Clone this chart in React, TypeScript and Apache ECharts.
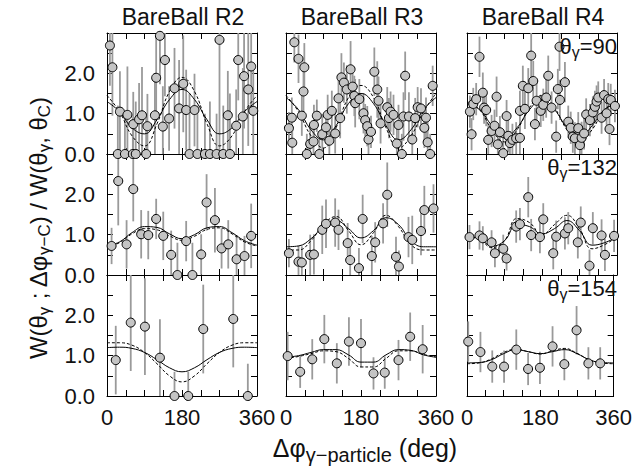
import React, { useEffect, useRef } from "react";
import * as echarts from "echarts";

const FONT = "'Liberation Sans', Arial, Helvetica, sans-serif";

// Column titles and row labels
const columnTitles = ["BareBall R2", "BareBall R3", "BareBall R4"];
const thetaLabels = ["90", "132", "154"];
const xTickLabels = [0, 180, 360];
const yTickLabels = [0, 1, 2];

// Measured points: [Δφ (deg), W ratio, error]
const r2t90 = [
  [7, 2.69, 1.0], [13, 2.15, 1.2], [26, 0, 1.2], [31, 1.05, 1.0], [43, 0, 1.0], [49, 0.97, 1.2],
  [62, 0, 0.9], [63, 0.74, 0.8], [69, 0, 1.3], [77, 0.86, 0.9], [84, 0.96, 1.2], [94, 0, 1.0],
  [97, 0.69, 0.8], [115, 0.96, 1.0], [118, 1.89, 1.0], [127, 2.93, 1.2], [134, 0.68, 1.0],
  [139, 2.33, 0.9], [149, 0.88, 0.8], [162, 1.63, 1.0], [173, 1.13, 1.2], [183, 1.74, 1.2],
  [190, 1.09, 1.0], [198, 0, 1.5], [210, 1.09, 0.9], [217, 0, 1.2], [235, 0, 1.0], [247, 0, 1.3],
  [263, 0, 1.0], [270, 2.83, 2.8], [279, 0, 1.2], [290, 0.96, 1.1], [295, 0, 1.5], [310, 0.7, 0.9],
  [315, 2.33, 1.0], [326, 0.93, 1.2], [329, 1.93, 1.3], [339, 1.6, 1.4], [346, 2.17, 1.0], [351, 1.07, 1.2],
];
const r3t90 = [
  [7, 0.64, 0.4], [14, 0.9, 0.5], [15, 0.28, 0.4], [20, 2.77, 0.5], [30, 2.36, 0.6], [38, 0.95, 0.5],
  [42, 1.55, 0.6], [44, 2.15, 0.6], [50, 0, 0.5], [58, 0.25, 0.4], [66, 0.31, 0.5], [67, 0.72, 0.5],
  [74, 0.95, 0.4], [80, 0, 0.5], [87, 0.49, 0.5], [96, 0.66, 0.4], [100, 0.97, 0.5], [104, 0.33, 0.4],
  [110, 1.07, 0.5], [118, 0.51, 0.5], [126, 1.38, 0.5], [130, 0.89, 0.5], [133, 1.9, 0.6], [139, 1.77, 0.5],
  [146, 1.6, 0.6], [155, 2.1, 0.7], [160, 1.67, 0.5], [164, 1.44, 0.5], [166, 1.26, 0.6], [176, 1.36, 0.5],
  [186, 1.01, 0.5], [190, 0.84, 0.4], [195, 0.69, 0.5], [198, 0.36, 0.4], [204, 0.55, 0.4], [212, 2.04, 0.6],
  [219, 1.6, 0.7], [222, 1.32, 0.6], [227, 0.76, 0.5], [243, 1.16, 0.5], [247, 0.89, 0.5], [251, 1.05, 0.5],
  [258, 0.97, 0.5], [266, 0.26, 0.4], [270, 0.72, 0.5], [278, 0, 0.5], [282, 0.93, 0.6], [286, 1.94, 0.6],
  [295, 0.93, 0.6], [303, 0.36, 0.5], [310, 0.89, 0.5], [316, 1.16, 0.5], [324, 1.13, 0.5], [332, 0.65, 0.5],
  [336, 0.9, 0.5], [340, 0.29, 0.5], [346, 0, 0.5], [352, 1.69, 0.5],
];
const r4t90 = [
  [7, 1.05, 0.4], [11, 0.49, 0.4], [15, 1.24, 0.4], [22, 1.36, 0.4], [30, 2.41, 0.5], [38, 1.52, 0.5],
  [41, 1.15, 0.4], [46, 1.09, 0.4], [51, 0.35, 0.4], [59, 0.57, 0.4], [66, 0.7, 0.4], [71, 1.42, 0.5],
  [74, 0.24, 0.4], [79, 0.54, 0.4], [87, 0.02, 0.4], [95, 0.94, 0.4], [99, 0.45, 0.4], [103, 0.27, 0.3],
  [109, 0.35, 0.4], [118, 0.39, 0.4], [127, 0.4, 0.4], [127, 1.07, 0.5], [134, 1.69, 0.5], [139, 1.12, 0.5],
  [147, 1.63, 0.5], [154, 2.44, 0.6], [159, 1.81, 0.5], [163, 0.74, 0.4], [167, 1.32, 0.5], [177, 1.07, 0.4],
  [183, 1.22, 0.4], [190, 1.4, 0.5], [195, 1.94, 0.5], [203, 1.15, 0.4], [214, 0.43, 0.4], [218, 1.61, 0.5],
  [222, 2.66, 0.6], [223, 1.34, 0.5], [235, 1.78, 0.5], [243, 0.8, 0.4], [249, 0.65, 0.4], [254, 0.43, 0.4],
  [259, 0.39, 0.4], [267, 0.64, 0.4], [271, 0.22, 0.3], [275, 0.4, 0.4], [281, 0.51, 0.4], [286, 0.98, 0.4],
  [295, 0.84, 0.4], [302, 1.03, 0.4], [307, 1.17, 0.4], [311, 1.3, 0.4], [315, 1.4, 0.4], [323, 0.9, 0.4],
  [329, 1.46, 0.4], [335, 1.01, 0.4], [339, 1.36, 0.4], [342, 0.62, 0.4], [345, 1.34, 0.4], [355, 1.19, 0.4],
];
const r2t132 = [
  [11, 0.72, 0.45], [27, 2.33, 1.1], [47, 0.76, 0.6], [63, 2.13, 0.8], [82, 1.01, 0.6], [99, 0.99, 0.6],
  [118, 1.39, 0.5], [135, 0.97, 0.6], [154, 0.5, 0.6], [169, 0, 0.8], [190, 0.84, 0.5], [205, 0, 0.8],
  [226, 0.51, 0.5], [239, 1.8, 0.7], [259, 1.36, 0.8], [275, 0.66, 0.5], [291, 0.76, 0.6], [311, 0.39, 0.6],
  [330, 0.47, 0.5], [346, 0.97, 0.8],
];
const r3t132 = [
  [7, 0.54, 0.35], [30, 0.33, 0.4], [38, 0.31, 0.4], [58, 0.5, 0.5], [67, 0.51, 0.5], [87, 1.12, 0.6],
  [96, 1.27, 0.6], [118, 1.3, 0.6], [126, 1.12, 0.5], [148, 0.79, 0.5], [154, 0.37, 0.5], [175, 0.17, 0.5],
  [184, 1.39, 0.6], [206, 0.47, 0.5], [214, 0.81, 0.5], [233, 1.28, 0.5], [243, 1.99, 0.8], [264, 0.45, 0.5],
  [271, 0.21, 0.4], [294, 0.94, 0.5], [303, 0.87, 0.6], [324, 1.09, 0.6], [332, 1.61, 0.6], [354, 1.65, 0.6],
];
const r4t132 = [
  [6, 0.94, 0.3], [30, 0.98, 0.35], [38, 0.91, 0.3], [59, 0.81, 0.3], [67, 0.54, 0.35], [87, 0.65, 0.35],
  [95, 0.41, 0.3], [118, 1.2, 0.4], [127, 1.26, 0.4], [147, 1.93, 0.5], [154, 0.99, 0.4], [175, 0.94, 0.4],
  [183, 1.38, 0.4], [207, 0.54, 0.4], [214, 0.95, 0.4], [235, 1.03, 0.4], [243, 1.16, 0.4], [266, 0.81, 0.4],
  [273, 1.3, 0.4], [294, 0.23, 0.4], [302, 1.16, 0.4], [323, 0.98, 0.4], [331, 0.5, 0.4], [353, 0.97, 0.4],
];
const r2t154 = [
  [21, 0.89, 0.85], [57, 1.82, 1.2], [91, 1.72, 1.2], [127, 0.95, 0.95], [162, 0, 0.6], [195, 0, 0.6],
  [231, 1.66, 1.1], [303, 1.91, 1.2], [338, 0, 0.8],
];
const r3t154 = [
  [4, 0.99, 0.6], [34, 0.6, 0.4], [63, 0.91, 0.5], [92, 1.41, 0.6], [122, 0.81, 0.5], [151, 1.35, 0.6],
  [180, 1.31, 0.6], [210, 0.56, 0.4], [237, 0.58, 0.4], [270, 0.89, 0.5], [298, 1.47, 0.6], [328, 1.16, 0.6],
];
const r4t154 = [
  [3, 1.35, 0.5], [33, 1.09, 0.5], [62, 0.73, 0.4], [91, 0.73, 0.4], [121, 1.15, 0.5], [150, 0.67, 0.4],
  [179, 0.7, 0.4], [210, 1.23, 0.5], [239, 0.79, 0.4], [269, 1.63, 0.6], [298, 0.81, 0.4], [327, 0.81, 0.4],
];

// Fit curves sampled every 30 degrees
const curveX = [0, 30, 60, 90, 120, 150, 180, 210, 240, 270, 300, 330, 360];
const r2t90Solid = [1.3, 1.05, 0.65, 0.5, 0.85, 1.35, 1.6, 1.35, 0.85, 0.5, 0.65, 1.05, 1.3];
const r2t90Dash = [1.45, 1.05, 0.45, 0.2, 0.75, 1.55, 1.9, 1.55, 0.75, 0.2, 0.45, 1.05, 1.45];
const r3t90Solid = [1.4, 1.1, 0.6, 0.35, 0.7, 1.25, 1.5, 1.25, 0.7, 0.35, 0.6, 1.1, 1.4];
const r3t90Dash = [1.45, 1.05, 0.45, 0.15, 0.65, 1.4, 1.7, 1.4, 0.65, 0.15, 0.45, 1.05, 1.5];
const r4t90Solid = [1.25, 1.1, 0.7, 0.4, 0.65, 1.1, 1.35, 1.1, 0.65, 0.4, 0.7, 1.1, 1.25];
const r4t90Dash = [1.3, 1.1, 0.6, 0.3, 0.6, 1.15, 1.45, 1.15, 0.6, 0.3, 0.6, 1.1, 1.3];
const r2t132Solid = [0.72, 0.82, 1.05, 1.2, 1.18, 1.02, 0.9, 1.0, 1.17, 1.2, 1.05, 0.85, 0.74];
const r2t132Dash = [0.7, 0.8, 1.02, 1.15, 1.12, 0.97, 0.86, 0.96, 1.13, 1.17, 1.02, 0.82, 0.72];
const r3t132Solid = [0.7, 0.72, 0.9, 1.2, 1.35, 1.15, 0.92, 1.1, 1.42, 1.25, 0.85, 0.7, 0.7];
const r3t132Dash = [0.62, 0.62, 0.85, 1.25, 1.45, 1.1, 0.75, 1.05, 1.48, 1.2, 0.75, 0.62, 0.62];
const r4t132Solid = [0.95, 0.9, 0.72, 0.85, 1.25, 1.2, 1.02, 1.15, 1.35, 1.1, 0.74, 0.8, 0.95];
const r4t132Dash = [0.95, 0.88, 0.68, 0.85, 1.4, 1.3, 1.0, 1.25, 1.48, 1.15, 0.65, 0.75, 0.95];
const r2t154Solid = [1.2, 1.21, 1.18, 1.08, 0.9, 0.7, 0.6, 0.7, 0.9, 1.08, 1.18, 1.21, 1.2];
const r2t154Dash = [1.32, 1.32, 1.26, 1.08, 0.8, 0.5, 0.35, 0.5, 0.8, 1.08, 1.26, 1.32, 1.32];
const r3t154Solid = [0.96, 1.0, 1.08, 1.15, 1.15, 1.02, 0.84, 0.84, 1.02, 1.15, 1.13, 1.02, 0.96];
const r3t154Dash = [0.93, 0.98, 1.05, 1.12, 1.1, 0.93, 0.72, 0.72, 0.93, 1.12, 1.12, 1.03, 0.97];
const r4t154Solid = [0.82, 0.83, 0.9, 1.05, 1.15, 1.1, 1.05, 1.1, 1.15, 1.05, 0.9, 0.83, 0.82];
const r4t154Dash = [0.8, 0.82, 0.92, 1.08, 1.16, 1.1, 1.04, 1.12, 1.18, 1.06, 0.9, 0.82, 0.8];

const panelPoints = [r2t90, r3t90, r4t90, r2t132, r3t132, r4t132, r2t154, r3t154, r4t154];
const panelSolid = [r2t90Solid, r3t90Solid, r4t90Solid, r2t132Solid, r3t132Solid, r4t132Solid, r2t154Solid, r3t154Solid, r4t154Solid];
const panelDash = [r2t90Dash, r3t90Dash, r4t90Dash, r2t132Dash, r3t132Dash, r4t132Dash, r2t154Dash, r3t154Dash, r4t154Dash];

const LEFTS = [107, 286, 467];
const TOPS = [33, 154, 275];
const PW = 150;
const PH = 121;
const YMAX = 3;
const INK = "#111";

function buildOption() {
  const grid: any[] = [];
  const xAxis: any[] = [];
  const yAxis: any[] = [];
  const series: any[] = [];
  const axisLine = { show: true, onZero: false, lineStyle: { color: "#000", width: 1 } };
  const axisTick = { show: true, inside: true, length: 6, lineStyle: { color: "#000", width: 1 } };
  const topX: any[] = [];
  const rightY: any[] = [];
  for (let r = 0; r < 3; r++) {
    for (let c = 0; c < 3; c++) {
      const i = r * 3 + c;
      grid.push({ left: LEFTS[c], top: TOPS[r], width: PW, height: PH });
      xAxis.push({
        type: "value", gridIndex: i, min: 0, max: 360, interval: 45, position: "bottom",
        axisLine, axisTick, splitLine: { show: false },
        axisLabel: {
          show: r === 2, margin: 10, fontSize: 22, color: INK, fontFamily: FONT,
          showMinLabel: true, showMaxLabel: true,
          formatter: (v: number) => (xTickLabels.includes(v) ? String(v) : ""),
        },
      });
      topX.push({
        type: "value", gridIndex: i, min: 0, max: 360, interval: 45, position: "top",
        axisLine, axisTick, splitLine: { show: false }, axisLabel: { show: false },
      });
      yAxis.push({
        type: "value", gridIndex: i, min: 0, max: YMAX, interval: 0.5, position: "left",
        axisLine, axisTick, splitLine: { show: false },
        axisLabel: {
          show: c === 0, margin: 12, fontSize: 22, color: INK, fontFamily: FONT,
          formatter: (v: number) => (yTickLabels.includes(v) ? v.toFixed(1) : ""),
        },
      });
      rightY.push({
        type: "value", gridIndex: i, min: 0, max: YMAX, interval: 0.5, position: "right",
        axisLine, axisTick, splitLine: { show: false }, axisLabel: { show: false },
      });
      const pts = panelPoints[i];
      series.push({
        type: "custom", xAxisIndex: i, yAxisIndex: i, silent: true, z: 1,
        data: pts,
        encode: { x: 0, y: 1 },
        renderItem: (params: any, api: any) => {
          const x = api.value(0);
          const y = api.value(1);
          const e = api.value(2);
          const p1 = api.coord([x, Math.min(y + e, YMAX)]);
          const p2 = api.coord([x, Math.max(y - e, 0)]);
          return {
            type: "line",
            shape: { x1: p1[0], y1: p1[1], x2: p2[0], y2: p2[1] },
            style: { stroke: "#9a9a9a", lineWidth: 1.8 },
          };
        },
      });
      series.push({
        type: "line", xAxisIndex: i, yAxisIndex: i, silent: true, z: 2,
        data: curveX.map((x, k) => [x, panelSolid[i][k]]),
        smooth: 0.45, showSymbol: false, symbol: "none",
        lineStyle: { color: "#000", width: 1 },
      });
      series.push({
        type: "line", xAxisIndex: i, yAxisIndex: i, silent: true, z: 2,
        data: curveX.map((x, k) => [x, panelDash[i][k]]),
        smooth: 0.45, showSymbol: false, symbol: "none",
        lineStyle: { color: "#000", width: 1, type: [3, 2] },
      });
      series.push({
        type: "scatter", xAxisIndex: i, yAxisIndex: i, silent: true, z: 3, clip: false,
        data: pts.map((p) => [p[0], p[1]]),
        symbol: "circle", symbolSize: 9,
        itemStyle: { color: "#c4c4c4", borderColor: "#000", borderWidth: 1, opacity: 1 },
      });
    }
  }

  const graphic: any[] = [];
  columnTitles.forEach((t, c) => {
    graphic.push({
      type: "text", x: LEFTS[c] + PW / 2 + 1, y: 17,
      style: { text: t, fontSize: 23, fontFamily: FONT, fill: INK, align: "center", verticalAlign: "middle" },
    });
  });
  const sub = { fontSize: 16, fontFamily: FONT, fill: INK, padding: [12, 0, 0, 0] };
  const main = { fontSize: 22, fontFamily: FONT, fill: INK };
  thetaLabels.forEach((t, r) => {
    graphic.push({
      type: "text", x: 617, y: TOPS[r] - 1, z: 10,
      style: {
        text: `{m|θ}{s|γ}{m|=${t}}`, align: "right", verticalAlign: "top",
        rich: { m: main, s: sub },
      },
    });
  });
  graphic.push({
    type: "text", x: 365, y: 448,
    style: {
      text: "{m|Δφ}{s|γ−particle}{m| (deg)}", align: "center", verticalAlign: "middle",
      rich: {
        m: { fontSize: 25, fontFamily: FONT, fill: INK },
        s: { fontSize: 20, fontFamily: FONT, fill: INK, padding: [14, 0, 0, 0] },
      },
    },
  });
  graphic.push({
    type: "text", x: 38, y: 228, rotation: Math.PI / 2,
    style: {
      text: "{m|W(θ}{s|γ}{m| ; Δφ}{s|γ−C}{m|) / W(θ}{s|γ}{m|, θ}{s|C}{m|)}",
      align: "center", verticalAlign: "middle",
      rich: {
        m: { fontSize: 24, fontFamily: FONT, fill: INK },
        s: { fontSize: 17, fontFamily: FONT, fill: INK, padding: [12, 0, 0, 0] },
      },
    },
  });

  return {
    animation: false,
    backgroundColor: "#fff",
    grid,
    xAxis: [...xAxis, ...topX],
    yAxis: [...yAxis, ...rightY],
    series,
    graphic,
  };
}

export default function App() {
  const ref = useRef<HTMLDivElement>(null);
  useEffect(() => {
    document.body.style.margin = "0";
    const chart = echarts.init(ref.current!, undefined, { renderer: "svg" });
    chart.setOption(buildOption() as any);
    return () => chart.dispose();
  }, []);
  return <div ref={ref} style={{ width: 635, height: 470 }} />;
}
